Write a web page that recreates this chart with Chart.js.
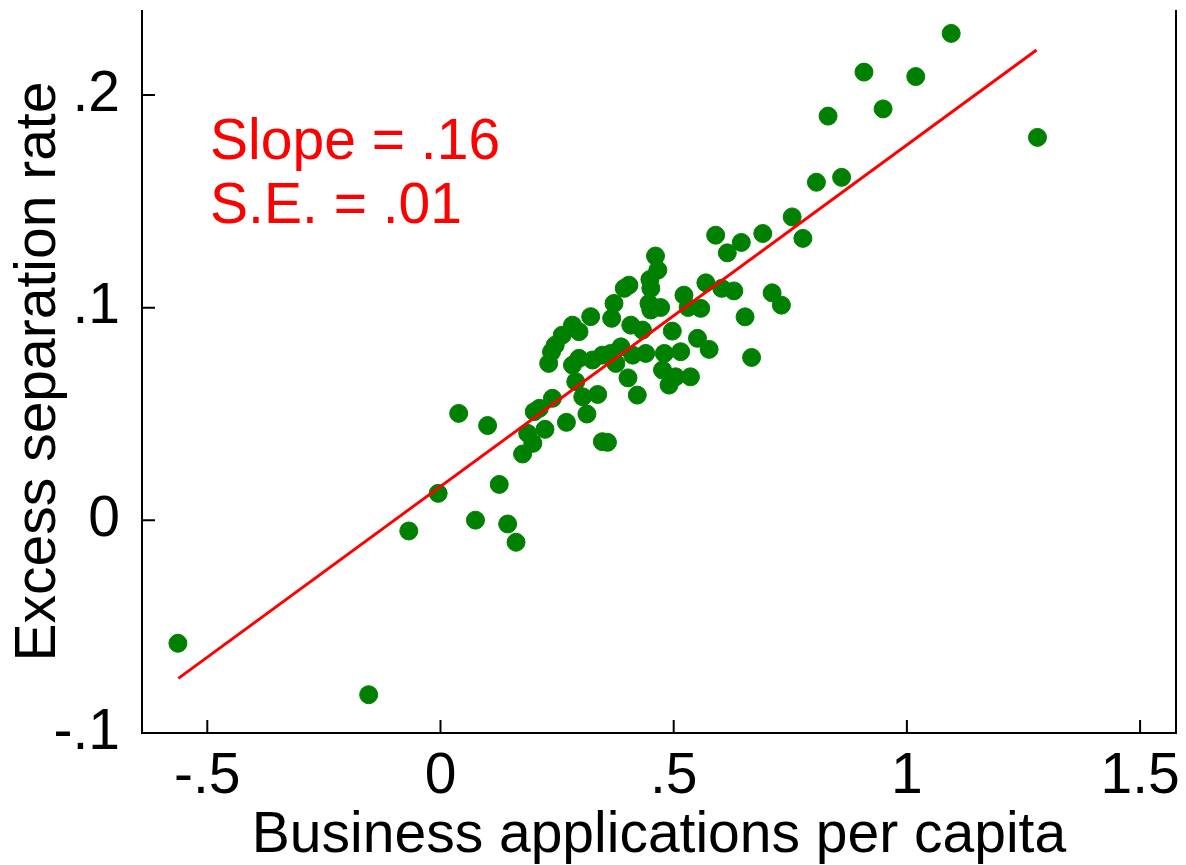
<!DOCTYPE html>
<html lang="en">
<head>
<meta charset="UTF-8">
<title>Excess separation rate vs business applications</title>
<script src="https://cdn.jsdelivr.net/npm/chart.js"></script>
<style>
  body { margin: 0; background: #fff; }
  canvas { display: block; }
</style>
</head>
<body>
<canvas id="grafico" width="1186" height="865"></canvas>

<script>
// values
const appsPerCapita = [
  -0.563, -0.154, -0.068, -0.005, 0.039, 0.075, 0.101, 0.126, 0.144, 0.162,
  0.176, 0.187, 0.198, 0.212, 0.201, 0.224, 0.240, 0.270, 0.290, 0.305,
  0.314, 0.337, 0.347, 0.358, 0.402, 0.422, 0.232, 0.238, 0.246, 0.261,
  0.283, 0.297, 0.322, 0.367, 0.372, 0.297, 0.283, 0.326, 0.347, 0.365,
  0.387, 0.408, 0.433, 0.440, 0.412, 0.376, 0.394, 0.404, 0.447, 0.451,
  0.472, 0.449, 0.451, 0.461, 0.466, 0.497, 0.522, 0.531, 0.558, 0.569,
  0.603, 0.629, 0.551, 0.576, 0.515, 0.480, 0.476, 0.504, 0.536, 0.490,
  0.653, 0.667, 0.711, 0.731, 0.590, 0.615, 0.645, 0.691, 0.754, 0.777,
  0.806, 0.860, 0.831, 0.908, 0.949, 1.019, 1.095, 1.280
];
const excessSep = [
  -0.0578, -0.0820, -0.0050, 0.0127, 0.0503, 0.0001, 0.0446, 0.0169, -0.0017, -0.0103,
  0.0312, 0.0409, 0.0362, 0.0527, 0.0511, 0.0428, 0.0574, 0.0461, 0.0652, 0.0581,
  0.0500, 0.0592, 0.0370, 0.0367, 0.0670, 0.0589, 0.0738, 0.0792, 0.0824, 0.0871,
  0.0918, 0.0887, 0.0958, 0.0950, 0.1020, 0.0762, 0.0730, 0.0754, 0.0777, 0.0785,
  0.0816, 0.0918, 0.0895, 0.0785, 0.0777, 0.0738, 0.1091, 0.1106, 0.1020, 0.0989,
  0.1001, 0.1133, 0.1091, 0.1243, 0.1177, 0.0890, 0.1059, 0.1001, 0.0997, 0.1117,
  0.1091, 0.1079, 0.0856, 0.0804, 0.0793, 0.0785, 0.0707, 0.0675, 0.0675, 0.0636,
  0.0957, 0.0766, 0.1070, 0.1012, 0.1341, 0.1258, 0.1307, 0.1349, 0.1427, 0.1326,
  0.1590, 0.1613, 0.1901, 0.2108, 0.1935, 0.2087, 0.2290, 0.1801
];

// ends of the fitted line
const fitX = [-0.562, 1.278];
const fitY = [-0.0743, 0.2212];

const xTicks = [-0.5, 0, 0.5, 1, 1.5];
const xTickLabels = ['-.5', '0', '.5', '1', '1.5'];
const yTicks = [-0.1, 0, 0.1, 0.2];
const yTickLabels = ['-.1', '0', '.1', '.2'];

const noteLines = ['Slope = .16', 'S.E. = .01'];
const noteX = -0.494;
const noteY = [0.170, 0.140];

const FONT = '"Liberation Sans", Arial, Helvetica, sans-serif';
const SIZE = 57;

// axis lines (left, bottom, right), inward ticks and the red note
const frame = {
  id: 'frame',
  afterDraw(chart) {
    const ctx = chart.ctx;
    const a = chart.chartArea;
    const x = chart.scales.x;
    const y = chart.scales.y;

    ctx.save();
    ctx.strokeStyle = '#000';
    ctx.lineWidth = 2;
    ctx.beginPath();
    ctx.moveTo(a.left, a.top);
    ctx.lineTo(a.left, a.bottom);
    ctx.lineTo(a.right, a.bottom);
    ctx.lineTo(a.right, a.top);
    ctx.stroke();

    ctx.beginPath();
    xTicks.forEach(v => {
      const px = x.getPixelForValue(v);
      ctx.moveTo(px, a.bottom);
      ctx.lineTo(px, a.bottom - 13);
    });
    yTicks.forEach(v => {
      const py = y.getPixelForValue(v);
      ctx.moveTo(a.left, py);
      ctx.lineTo(a.left + 13, py);
    });
    ctx.stroke();

    ctx.fillStyle = '#ff0000';
    ctx.font = SIZE + 'px ' + FONT;
    ctx.textAlign = 'left';
    ctx.textBaseline = 'alphabetic';
    noteLines.forEach((t, i) => {
      ctx.fillText(t, x.getPixelForValue(noteX), y.getPixelForValue(noteY[i]));
    });
    ctx.restore();
  }
};

const ctx = document.getElementById('grafico').getContext('2d');

new Chart(ctx, {
  type: 'scatter',
  data: {
    datasets: [
      {
        type: 'line',
        data: fitX.map((v, i) => ({ x: v, y: fitY[i] })),
        borderColor: '#ff0000',
        borderWidth: 3,
        pointRadius: 0,
        fill: false,
        order: 0
      },
      {
        data: appsPerCapita.map((v, i) => ({ x: v, y: excessSep[i] })),
        backgroundColor: '#008000',
        borderColor: '#008000',
        borderWidth: 1,
        pointRadius: 9,
        order: 1
      }
    ]
  },
  options: {
    responsive: false,
    animation: false,
    devicePixelRatio: 1,
    layout: { padding: { top: 10, right: 8, left: 0, bottom: 0 } },
    plugins: {
      legend: { display: false },
      tooltip: { enabled: false }
    },
    scales: {
      x: {
        type: 'linear',
        min: -0.64,
        max: 1.577,
        afterBuildTicks: s => { s.ticks = xTicks.map(v => ({ value: v })); },
        afterFit: s => { s.height = 132; s.paddingLeft = 0; s.paddingRight = 0; },
        grid: { display: false, drawTicks: false },
        border: { display: false },
        ticks: {
          padding: 10,
          color: '#000',
          maxRotation: 0,
          font: { family: FONT, size: SIZE },
          callback: (v, i) => xTickLabels[i]
        },
        title: {
          display: true,
          text: 'Business applications per capita',
          color: '#000',
          font: { family: FONT, size: SIZE, lineHeight: 1 },
          padding: { top: 0, bottom: 0 }
        }
      },
      y: {
        type: 'linear',
        min: -0.1,
        max: 0.24,
        afterBuildTicks: s => { s.ticks = yTicks.map(v => ({ value: v })); },
        afterFit: s => { s.width = 142; s.paddingTop = 0; s.paddingBottom = 0; },
        grid: { display: false, drawTicks: false },
        border: { display: false },
        ticks: {
          padding: 22,
          color: '#000',
          font: { family: FONT, size: SIZE },
          callback: (v, i) => yTickLabels[i]
        },
        title: {
          display: true,
          text: 'Excess separation rate',
          color: '#000',
          font: { family: FONT, size: SIZE, lineHeight: 1 },
          padding: { top: 11, bottom: 0 }
        }
      }
    }
  },
  plugins: [frame]
});
</script>
</body>
</html>
